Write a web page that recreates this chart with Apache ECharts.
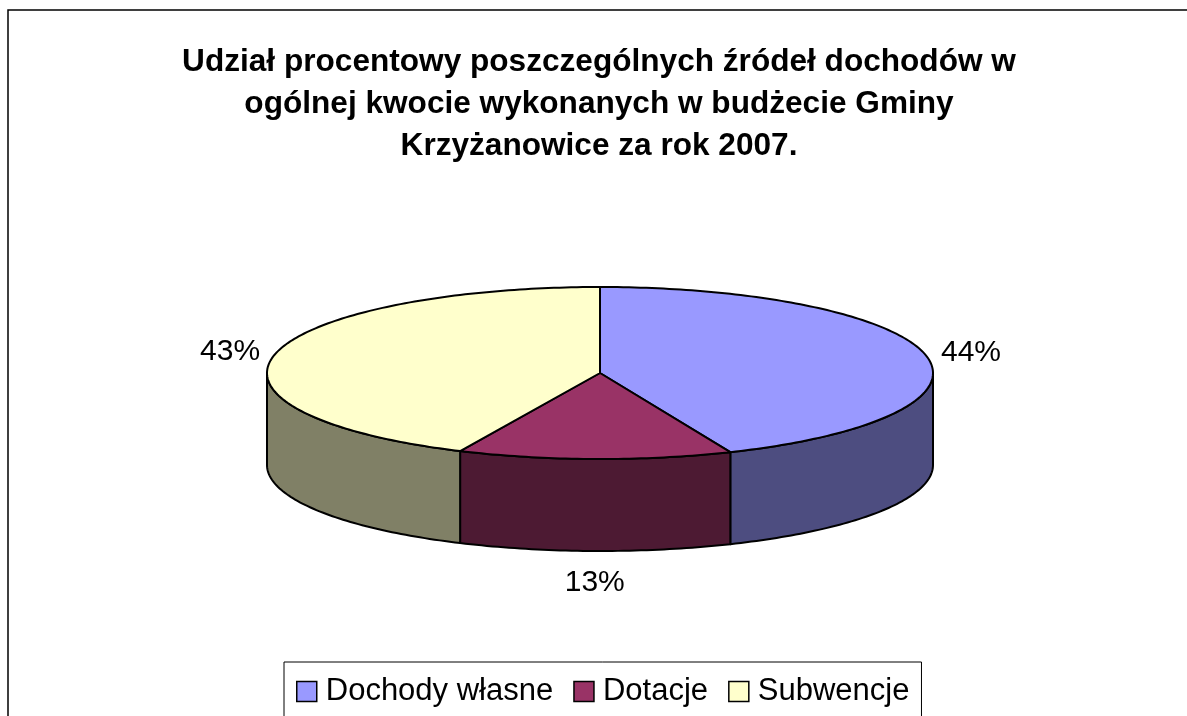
<!DOCTYPE html>
<html>
<head>
<meta charset="utf-8">
<script src="https://cdn.jsdelivr.net/npm/echarts@6/dist/echarts.min.js"></script>
<style>
html,body{margin:0;padding:0;background:#fff;}
#chart{width:1187px;height:716px;}
</style>
</head>
<body>
<div id="chart"></div>
<script>
// ---- data ----
const titleText = 'Udział procentowy poszczególnych źródeł dochodów w\nogólnej kwocie wykonanych w budżecie Gminy\nKrzyżanowice za rok 2007.';
const categories = ['Dochody własne', 'Dotacje', 'Subwencje'];
const values = [43.6, 13.3, 43.1];

// ---- styles ----
const topColors = ['#9999FF', '#993366', '#FFFFCC'];
const sideColors = ['#4D4D80', '#4D1A33', '#808066'];
const FONT = '"Liberation Sans", Arial, sans-serif';

const total = values.reduce((a, b) => a + b, 0);
const starts = [];
let acc = 0;
values.forEach(v => { starts.push(acc / total); acc += v; });

// pie geometry (3D ellipse)
const G = { cx: 600, cy: 373, rx: 333, ry: 86, depth: 92 };

function pt(theta, dz) {
  return [G.cx + G.rx * Math.sin(theta), G.cy - G.ry * Math.cos(theta) + dz];
}
function arc(a, b, dz) {
  const pts = [];
  const n = Math.max(8, Math.ceil((b - a) / (Math.PI / 180)));
  for (let k = 0; k <= n; k++) pts.push(pt(a + (b - a) * k / n, dz));
  return pts;
}

function makeRender(i) {
  return function (params, api) {
    const s = api.value(0) * 2 * Math.PI;
    const e = api.value(1) * 2 * Math.PI;
    const pct = Math.round(api.value(2) * 100) + '%';
    const children = [];
    const a = Math.max(s, Math.PI / 2), b = Math.min(e, 3 * Math.PI / 2);
    if (a < b) {
      const wall = arc(a, b, 0).concat(arc(a, b, G.depth).reverse());
      children.push({
        type: 'polygon', shape: { points: wall },
        style: { fill: sideColors[i], stroke: '#000', lineWidth: 2, lineJoin: 'round' }
      });
    }
    const topPts = [[G.cx, G.cy]].concat(arc(s, e, 0));
    children.push({
      type: 'polygon', shape: { points: topPts },
      style: { fill: topColors[i], stroke: '#000', lineWidth: 2, lineJoin: 'round' }
    });
    const mid = (s + e) / 2;
    const sn = Math.sin(mid), cs = Math.cos(mid);
    let lx, align;
    if (sn > 0.3) { lx = G.cx + (G.rx + 15) * sn; align = 'left'; }
    else if (sn < -0.3) { lx = G.cx + (G.rx + 15) * sn; align = 'right'; }
    else { lx = G.cx + G.rx * sn; align = 'center'; }
    const ly = G.cy - (G.ry + 29) * cs + (cs < 0 ? G.depth : 0) + 3;
    children.push({
      type: 'text',
      style: { text: pct, x: lx, y: ly, align: align, verticalAlign: 'middle',
               font: '30px ' + FONT, fill: '#000' }
    });
    return { type: 'group', children: children };
  };
}

const series = categories.map((name, i) => ({
  type: 'custom',
  name: name,
  coordinateSystem: 'none',
  itemStyle: { color: topColors[i] },
  data: [[starts[i], starts[i] + values[i] / total, values[i] / total]],
  renderItem: makeRender(i),
  animation: false
}));

const chart = echarts.init(document.getElementById('chart'), null, { renderer: 'canvas' });
chart.setOption({
  backgroundColor: '#fff',
  animation: false,
  title: {
    text: titleText,
    left: 599,
    top: 41,
    padding: 0,
    textAlign: 'center',
    textStyle: { fontFamily: FONT, fontSize: 31.6, fontWeight: 'bold', color: '#000', lineHeight: 42 }
  },
  legend: {
    data: categories,
    left: 284,
    top: 662,
    orient: 'horizontal',
    icon: 'rect',
    itemWidth: 20,
    itemHeight: 20,
    itemGap: 20,
    padding: [14, 12, 40, 12],
    backgroundColor: '#fff',
    borderColor: '#000',
    borderWidth: 1,
    borderRadius: 0,
    itemStyle: { borderColor: '#000', borderWidth: 1.5 },
    textStyle: { fontFamily: FONT, fontSize: 31, color: '#000', lineHeight: 30, padding: [0, 0, 0, 4] },
    selectedMode: false
  },
  graphic: [{
    type: 'rect',
    shape: { x: 8, y: 10, width: 1300, height: 900 },
    style: { fill: 'none', stroke: '#000', lineWidth: 1.5 },
    silent: true,
    z: -10
  }],
  series: series
});
</script>
</body>
</html>
